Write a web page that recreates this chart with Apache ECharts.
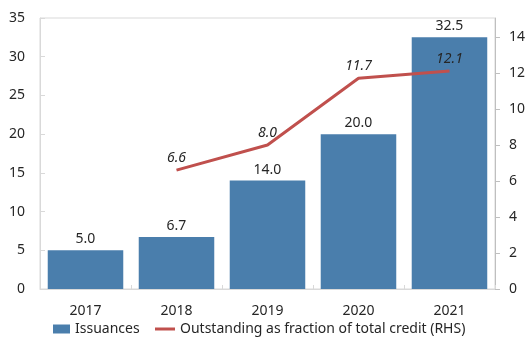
<!DOCTYPE html>
<html>
<head>
<meta charset="utf-8">
<script src="https://cdn.jsdelivr.net/npm/echarts@6/dist/echarts.min.js"></script>
<style>
html,body{margin:0;padding:0;background:#fff;}
#chart{width:528px;height:339px;}
</style>
</head>
<body>
<div id="chart"></div>
<script>
const categories = ['2017', '2018', '2019', '2020', '2021'];
const issuances = [5.0, 6.7, 14.0, 20.0, 32.5];
const outstandingShare = [null, 6.6, 8.0, 11.7, 12.1];
const leftTicks = [0, 5, 10, 15, 20, 25, 30, 35];
const rightTicks = [0, 2, 4, 6, 8, 10, 12, 14];

const FONT = 'Noto Sans';
const TXT = '#262626';
const AXIS = '#d9d9d9';

const chart = echarts.init(document.getElementById('chart'), null, {renderer: 'canvas'});
chart.setOption({
  animation: false,
  textStyle: {fontFamily: FONT},
  grid: {left: 40, right: 30, top: 18, bottom: 50, show: true, borderColor: AXIS, borderWidth: 1},
  legend: [
    {
      left: 48, top: 317, itemWidth: 17, itemHeight: 9,
      textStyle: {fontFamily: FONT, fontSize: 14, color: TXT},
      data: [{name: 'Issuances', icon: 'rect'}]
    },
    {
      left: 150, top: 317, itemWidth: 20, itemHeight: 9,
      textStyle: {fontFamily: FONT, fontSize: 14, color: TXT},
      data: [{name: 'Outstanding as fraction of total credit (RHS)', icon: 'path://M0,3 L20,3 L20,6 L0,6 Z'}]
    }
  ],
  xAxis: {
    type: 'category', data: categories,
    axisLine: {lineStyle: {color: AXIS}},
    axisTick: {show: true, inside: true, length: 4, lineStyle: {color: AXIS}},
    axisLabel: {fontFamily: FONT, fontSize: 14, color: TXT, margin: 15}
  },
  yAxis: [
    {
      type: 'value', min: 0, max: 35, interval: 5,
      splitLine: {show: false},
      axisLine: {show: true, lineStyle: {color: AXIS}},
      axisTick: {show: true, inside: true, length: 5, lineStyle: {color: AXIS}, customValues: leftTicks},
      axisLabel: {fontFamily: FONT, fontSize: 14, color: TXT, margin: 15, customValues: leftTicks}
    },
    {
      type: 'value', min: 0, max: 15.05, position: 'right',
      splitLine: {show: false},
      axisLine: {show: true, lineStyle: {color: '#bfbfbf'}},
      axisTick: {show: true, inside: false, length: 5, lineStyle: {color: '#bfbfbf'}, customValues: rightTicks},
      axisLabel: {fontFamily: FONT, fontSize: 14, color: TXT, margin: 14, customValues: rightTicks}
    }
  ],
  series: [
    {
      name: 'Issuances', type: 'bar', yAxisIndex: 0, data: issuances,
      barCategoryGap: '17%',
      itemStyle: {color: '#4a7eac'},
      label: {show: true, position: 'top', distance: 4, fontFamily: FONT, fontSize: 14, color: TXT,
        formatter: p => p.value.toFixed(1)}
    },
    {
      name: 'Outstanding as fraction of total credit (RHS)', type: 'line', yAxisIndex: 1, data: outstandingShare,
      showSymbol: true, symbol: 'circle', symbolSize: 0,
      lineStyle: {color: '#c0504d', width: 3},
      itemStyle: {color: '#c0504d'},
      label: {show: true, position: 'top', distance: 5, fontFamily: FONT, fontSize: 14, fontStyle: 'italic', color: TXT,
        formatter: p => p.value == null ? '' : p.value.toFixed(1)}
    }
  ]
});
</script>
</body>
</html>
